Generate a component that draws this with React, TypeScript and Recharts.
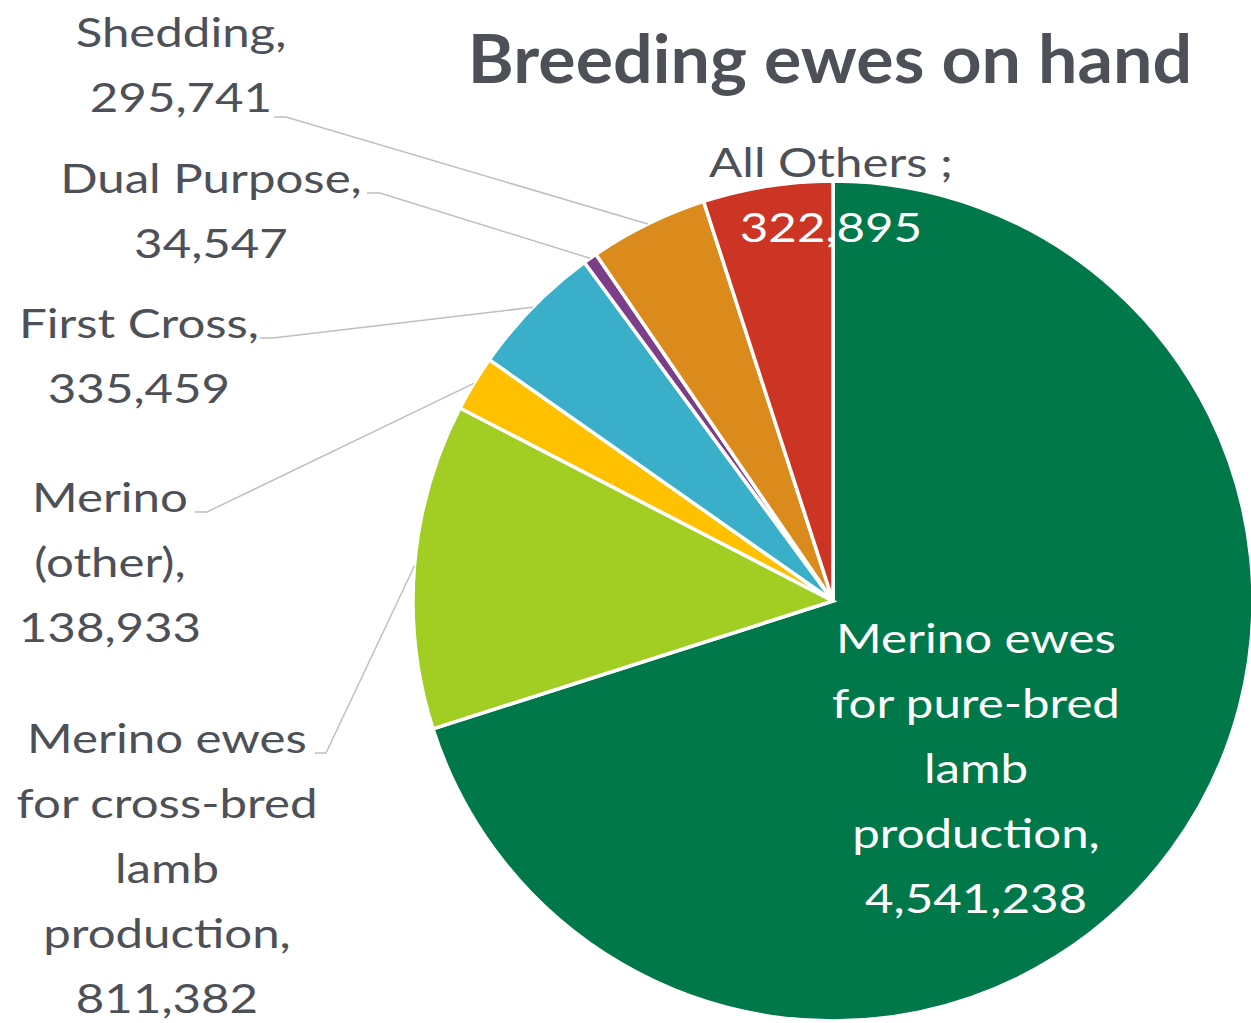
import React from "react";
import { PieChart, Pie, Cell } from "recharts";

// breeding ewes on hand, by type
const categories = [
  "Merino ewes for pure-bred lamb production",
  "Merino ewes for cross-bred lamb production",
  "Merino (other)",
  "First Cross",
  "Dual Purpose",
  "Shedding",
  "All Others",
];
const values = [4541238, 811382, 138933, 335459, 34547, 295741, 322895];
const labelText = [
  ["Merino ewes", "for pure-bred", "lamb", "production,"],
  ["Merino ewes", "for cross-bred", "lamb", "production,"],
  ["Merino", "(other),"],
  ["First Cross,"],
  ["Dual Purpose,"],
  ["Shedding,"],
  ["All Others ;"],
];
const sliceColors = ["#00784A", "#A2CD22", "#FFC000", "#3AAFC9", "#7A3F87", "#DB8B1C", "#CC3524"];

const data = categories.map((name, i) => ({ name, value: values[i] }));

const TEXT = "#4D5157";
const FONT = "Lato, 'Open Sans', sans-serif";
const LINE_H = 65;
const STRETCH = 1.2; // label font in the original is wider than Lato

// where each data label sits (x = centre, y = first baseline), plus leader line
const labelLayout: any[] = [
  { x: 976, y: 653, colors: ["#fff"], leader: null },
  { x: 167, y: 753, leader: { x1: 315, x2: 326, y: 753 } },
  { x: 110, y: 512, leader: { x1: 195, x2: 207, y: 512 } },
  { x: 139, y: 338, leader: { x1: 260, x2: 273, y: 338 } },
  { x: 211, y: 193, leader: { x1: 367, x2: 380, y: 193 } },
  { x: 181, y: 47, leader: { x1: 274, x2: 286, y: 117 } },
  { x: 831, y: 177, colors: [TEXT, "#fff"], leader: null },
];

const RAD = Math.PI / 180;

const renderLabel = (props: any) => {
  const { cx, cy, midAngle, outerRadius, index, value } = props;
  const lay = labelLayout[index];
  const lines = [...labelText[index], Number(value).toLocaleString("en-US")];
  const colorOf = (i: number) => {
    if (!lay.colors) return TEXT;
    return lay.colors[Math.min(i, lay.colors.length - 1)];
  };
  let leader = null;
  if (lay.leader) {
    const px = cx + outerRadius * Math.cos(-midAngle * RAD);
    const py = cy + outerRadius * Math.sin(-midAngle * RAD);
    const l = lay.leader;
    leader = (
      <polyline
        points={`${l.x1},${l.y} ${l.x2},${l.y} ${px},${py}`}
        fill="none"
        stroke="#BFBFBF"
        strokeWidth={1.5}
      />
    );
  }
  return (
    <g key={`lbl-${index}`}>
      {leader}
      {lines.map((t, i) => (
        <text
          key={i}
          x={0}
          y={0}
          transform={`translate(${lay.x} ${lay.y + i * LINE_H}) scale(${STRETCH} 1)`}
          textAnchor="middle"
          fill={colorOf(i)}
          fontFamily={FONT}
          fontSize={41}
        >
          {t}
        </text>
      ))}
    </g>
  );
};

export default function App() {
  return (
    <div style={{ position: "relative", width: 1251, height: 1023, background: "#fff" }}>
      <style>{"body{margin:0}"}</style>
      <PieChart width={1251} height={1023} margin={{ top: 0, right: 0, bottom: 0, left: 0 }}>
        <Pie
          data={data}
          dataKey="value"
          nameKey="name"
          cx={833}
          cy={601}
          outerRadius={420}
          startAngle={90}
          endAngle={-270}
          stroke="#fff"
          strokeWidth={3.5}
          label={renderLabel}
          labelLine={false}
          isAnimationActive={false}
        >
          {data.map((d, i) => (
            <Cell key={d.name} fill={sliceColors[i]} />
          ))}
        </Pie>
      </PieChart>
      <svg
        width={1251}
        height={110}
        style={{ position: "absolute", left: 0, top: 0, pointerEvents: "none" }}
      >
        <text
          x={0}
          y={0}
          transform="translate(830 83) scale(1.06 1)"
          textAnchor="middle"
          fill={TEXT}
          fontFamily={FONT}
          fontWeight={700}
          fontSize={66}
        >
          Breeding ewes on hand
        </text>
      </svg>
    </div>
  );
}
